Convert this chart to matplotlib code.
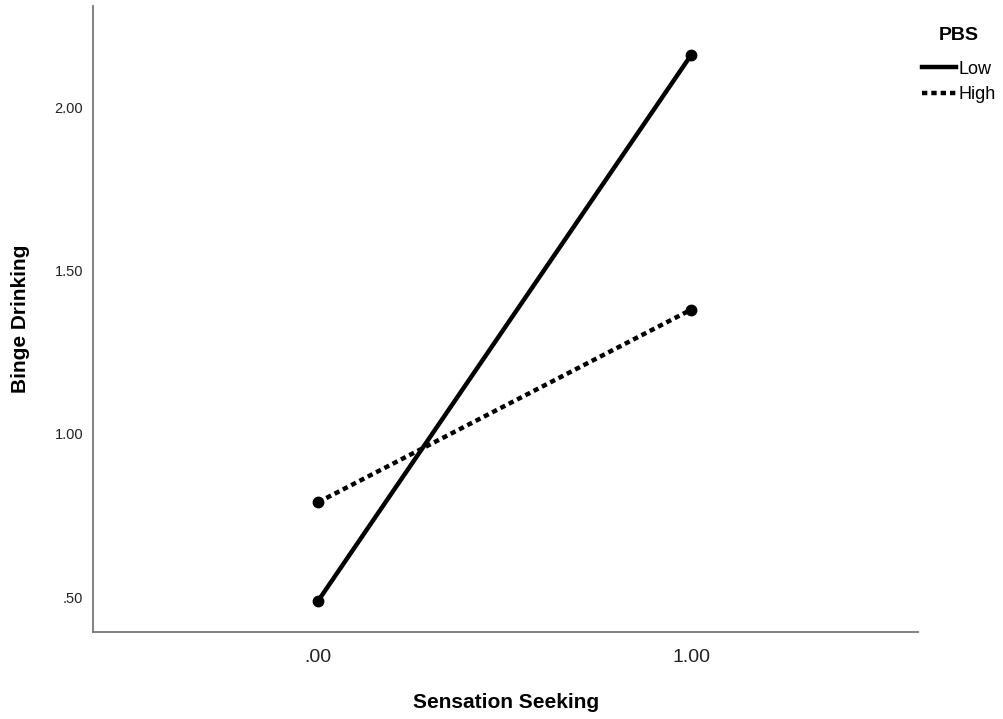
import matplotlib.pyplot as plt
from matplotlib.lines import Line2D

plt.rcParams['font.family'] = ['Liberation Sans', 'DejaVu Sans']

# Data
x_vals = [0.0, 1.0]
low_pbs = [0.488, 2.160]
high_pbs = [0.790, 1.380]
series_names = ['Low', 'High']
yticks = [0.5, 1.0, 1.5, 2.0]
ytick_labels = ['.50', '1.00', '1.50', '2.00']
xtick_labels = ['.00', '1.00']

fig = plt.figure(figsize=(10.04, 7.19), dpi=100)
ax = fig.add_axes([0.0926, 0.121, 0.822, 0.871])

dash = (0, (1.2, 0.9))
ax.plot(x_vals, low_pbs, color='black', lw=3.2, ls='-', marker='o', ms=7.5,
        label=series_names[0])
ax.plot(x_vals, high_pbs, color='black', lw=3.2, ls=dash, marker='o', ms=7.5,
        label=series_names[1])

ax.set_xlim(-0.603, 1.608)
ax.set_ylim(0.393, 2.31)
ax.set_xticks(x_vals)
ax.set_xticklabels(xtick_labels)
ax.set_yticks(yticks)
ax.set_yticklabels(ytick_labels)
ax.tick_params(axis='x', length=0, pad=12, labelsize=14, labelcolor='#222222')
ax.tick_params(axis='y', length=0, pad=7, labelsize=10.5, labelcolor='#222222')

for s in ['top', 'right']:
    ax.spines[s].set_visible(False)
for s in ['left', 'bottom']:
    ax.spines[s].set_color('#777777')
    ax.spines[s].set_linewidth(1.3)

ax.set_xlabel('Sensation Seeking', fontsize=15, fontweight='bold', labelpad=20)
ax.set_ylabel('Binge Drinking', fontsize=15, fontweight='bold', labelpad=18)

# legend (lines only, no markers)
handles = [Line2D([], [], color='black', lw=3.2, ls='-'),
           Line2D([], [], color='black', lw=3.2, ls=dash)]
leg = fig.legend(handles, series_names, loc='upper right', bbox_to_anchor=(1.008, 0.985),
                 frameon=False, title='PBS', handlelength=1.9, handletextpad=0.15,
                 labelspacing=0.45, fontsize=13,
                 title_fontproperties={'weight': 'bold', 'size': 14})
leg._legend_box.sep = 12

fig.savefig('out.png', dpi=100)
